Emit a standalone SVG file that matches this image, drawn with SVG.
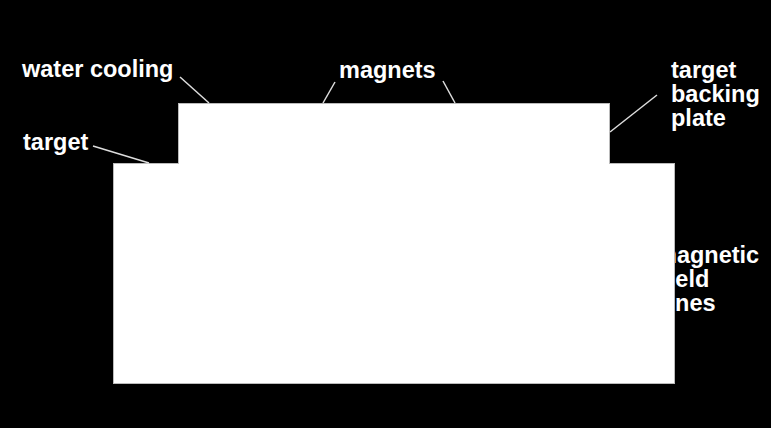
<svg xmlns="http://www.w3.org/2000/svg" width="771" height="428" viewBox="0 0 771 428">
<style>
.lbl{font-family:"Liberation Sans",Arial,sans-serif;font-weight:bold;font-size:23.5px;fill:#fff}
.shape{fill:#fff;stroke:#bbb;stroke-width:1}
.conn{stroke:#ddd;stroke-width:1.5;fill:none}
</style>
<rect x="0" y="0" width="771" height="428" fill="#000"/>
<g id="label-magnetic-field-lines">
<text class="lbl" x="656" y="263">magnetic<tspan x="661" y="287">field</tspan><tspan x="662" y="311">lines</tspan></text>
</g>
<g id="backing-plate">
<rect class="shape" x="178.5" y="103.5" width="431" height="61"/>
</g>
<g id="target-body">
<rect class="shape" x="113.5" y="163.5" width="561" height="220"/>
<rect x="179" y="160" width="430" height="6" fill="#fff"/>
</g>
<g id="connectors">
<line class="conn" x1="180" y1="77" x2="209" y2="103"/>
<line class="conn" x1="93" y1="146" x2="149" y2="163"/>
<line class="conn" x1="335" y1="82" x2="323" y2="103"/>
<line class="conn" x1="443" y1="81" x2="455" y2="103"/>
<line class="conn" x1="657" y1="95" x2="610" y2="132"/>
</g>
<g id="label-water-cooling"><text class="lbl" x="22" y="77">water cooling</text></g>
<g id="label-magnets"><text class="lbl" x="339" y="78">magnets</text></g>
<g id="label-target"><text class="lbl" x="23" y="150">target</text></g>
<g id="label-target-backing-plate">
<text class="lbl" x="671" y="78">target<tspan x="671" y="102">backing</tspan><tspan x="671" y="126">plate</tspan></text>
</g>
</svg>
